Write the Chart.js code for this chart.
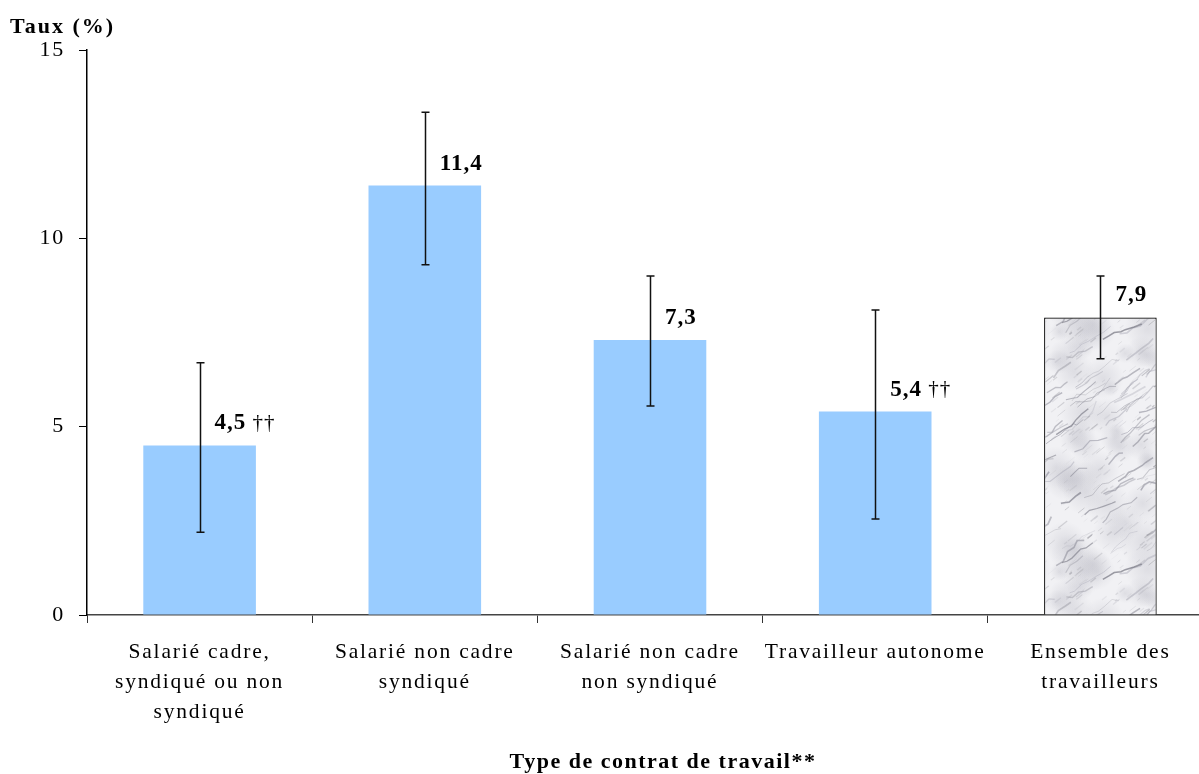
<!DOCTYPE html>
<html lang="fr">
<head>
<meta charset="utf-8">
<script src="https://cdn.jsdelivr.net/npm/chart.js@4.4.0/dist/chart.umd.min.js"></script>
<style>
  html, body { margin: 0; padding: 0; background: #fff; overflow: hidden; }
  #wrap { position: relative; width: 1213px; height: 774px; }
</style>
</head>
<body>
<div id="wrap"><canvas id="chart"></canvas></div>
<script>
  // données
  const categories = [
    ['Salarié cadre,', 'syndiqué ou non', 'syndiqué'],
    ['Salarié non cadre', 'syndiqué'],
    ['Salarié non cadre', 'non syndiqué'],
    'Travailleur autonome',
    ['Ensemble des', 'travailleurs']
  ];
  const taux = [4.5, 11.4, 7.3, 5.4, 7.9];
  const errLow = [2.2, 9.3, 5.55, 2.55, 6.8];
  const errHigh = [6.7, 13.35, 9.0, 8.1, 9.0];
  const notes = ['††', '', '', '††', ''];
  const yTicks = [0, 5, 10, 15];
  const yTitle = 'Taux (%)';
  const xTitle = 'Type de contrat de travail**';

  const serif = "'Liberation Serif', 'Times New Roman', serif";
  const blue = '#99ccff';

  // texture « marbre » (tuile raccordable) pour la barre de l'ensemble
  function marblePattern() {
    const W = 120, H = 240;
    const c = document.createElement('canvas');
    c.width = W; c.height = H;
    const g = c.getContext('2d');
    g.fillStyle = '#f1f1f4';
    g.fillRect(0, 0, W, H);
    let seed = 11;
    const rnd = () => { seed = (seed * 16807) % 2147483647; return seed / 2147483647; };
    const wrap = draw => {
      for (const dx of [-W, 0, W]) for (const dy of [-H, 0, H]) {
        g.save(); g.translate(dx, dy); draw(); g.restore();
      }
    };
    for (let i = 0; i < 40; i++) {
      const x = rnd() * W, y = rnd() * H, r = 8 + rnd() * 18;
      wrap(() => {
        const grd = g.createRadialGradient(x, y, 0, x, y, r);
        grd.addColorStop(0, 'rgba(185,185,195,0.35)');
        grd.addColorStop(1, 'rgba(185,185,195,0)');
        g.fillStyle = grd;
        g.fillRect(x - r, y - r, 2 * r, 2 * r);
      });
    }
    for (let i = 0; i < 60; i++) {
      const shade = 110 + Math.floor(rnd() * 70);
      const color = `rgba(${shade},${shade},${shade + 12},${0.3 + rnd() * 0.4})`;
      const lw = 0.6 + rnd() * 1.2;
      let x = rnd() * W, y = rnd() * H;
      const pts = [[x, y]];
      const steps = 3 + Math.floor(rnd() * 4);
      for (let s = 0; s < steps; s++) {
        x += 3 + rnd() * 6;
        y -= 1 + rnd() * 6;
        pts.push([x, y + (rnd() - 0.5) * 4]);
      }
      wrap(() => {
        g.strokeStyle = color; g.lineWidth = lw;
        g.beginPath();
        pts.forEach(([px, py], k) => (k ? g.lineTo(px, py) : g.moveTo(px, py)));
        g.stroke();
      });
    }
    for (let i = 0; i < 220; i++) {
      const x = rnd() * W, y = rnd() * H;
      const len = 3 + rnd() * 9;
      const shade = 140 + Math.floor(rnd() * 60);
      const color = `rgba(${shade},${shade},${shade + 8},${0.15 + rnd() * 0.35})`;
      const lw = 0.5 + rnd();
      wrap(() => {
        g.strokeStyle = color; g.lineWidth = lw;
        g.beginPath();
        g.moveTo(x, y);
        g.lineTo(x + len * 0.75, y - len * 0.6);
        g.stroke();
      });
    }
    return g.createPattern(c, 'repeat');
  }

  const spacing = {
    id: 'spacing',
    beforeDraw(chart) { chart.ctx.letterSpacing = '1.8px'; },
    afterDraw(chart) { chart.ctx.letterSpacing = '0px'; }
  };

  const errorBars = {
    id: 'errorBars',
    afterDatasetsDraw(chart) {
      const { ctx, scales: { y }, chartArea } = chart;
      const meta = chart.getDatasetMeta(0);
      ctx.save();
      ctx.strokeStyle = '#111';
      ctx.lineWidth = 1.5;
      meta.data.forEach((bar, i) => {
        const x = Math.round(bar.x) + 0.5;
        const yl = y.getPixelForValue(errLow[i]);
        const yh = y.getPixelForValue(errHigh[i]);
        ctx.beginPath();
        ctx.moveTo(x, yh); ctx.lineTo(x, yl);
        ctx.moveTo(x - 4, yh); ctx.lineTo(x + 4, yh);
        ctx.moveTo(x - 4, yl); ctx.lineTo(x + 4, yl);
        ctx.stroke();
      });
      // étiquettes de valeur
      ctx.fillStyle = '#000';
      ctx.textBaseline = 'middle';
      ctx.textAlign = 'left';
      ctx.letterSpacing = '1px';
      meta.data.forEach((bar, i) => {
        const lx = bar.x + 15;
        const ly = y.getPixelForValue(taux[i]) - 22;
        const txt = taux[i].toFixed(1).replace('.', ',');
        ctx.font = `bold 23px ${serif}`;
        ctx.fillText(txt, lx, ly);
        if (notes[i]) {
          const w = ctx.measureText(txt).width;
          ctx.font = `21px ${serif}`;
          ctx.fillText(' ' + notes[i], lx + w, ly);
        }
      });
      // titres des axes
      ctx.letterSpacing = '2px';
      ctx.font = `bold 22px ${serif}`;
      ctx.fillText(yTitle, 10, chartArea.top - 23);
      ctx.letterSpacing = '1.5px';
      ctx.textAlign = 'center';
      ctx.fillText(xTitle, 663, chartArea.bottom + 147);
      ctx.restore();
    }
  };

  new Chart(document.getElementById('chart'), {
    type: 'bar',
    data: {
      labels: categories,
      datasets: [{
        data: taux,
        backgroundColor: [blue, blue, blue, blue, marblePattern()],
        borderColor: ['rgba(0,0,0,0)', 'rgba(0,0,0,0)', 'rgba(0,0,0,0)', 'rgba(0,0,0,0)', '#000'],
        borderWidth: [0, 0, 0, 0, 1.2],
        barPercentage: 0.5,
        categoryPercentage: 1.0
      }]
    },
    options: {
      responsive: true,
      maintainAspectRatio: false,
      animation: false,
      layout: { padding: { left: 0, right: 0, top: 50, bottom: 0 } },
      plugins: {
        legend: { display: false },
        tooltip: { enabled: false }
      },
      scales: {
        x: {
          grid: { display: true, offset: true, drawOnChartArea: false, drawTicks: true, tickLength: 8, color: '#333' },
          border: { display: true, color: '#444', width: 1.5 },
          ticks: {
            color: '#000',
            padding: 14,
            autoSkip: false,
            maxRotation: 0,
            font: { family: serif, size: 21.5, lineHeight: 30 / 21.5 }
          },
          afterFit(scale) { scale.height = 159; }
        },
        y: {
          min: 0,
          max: 15,
          afterBuildTicks(scale) { scale.ticks = yTicks.map(v => ({ value: v })); },
          grid: { display: true, drawOnChartArea: false, drawTicks: true, tickLength: 8, color: '#000' },
          border: { display: true, color: '#000', width: 1.5 },
          ticks: {
            color: '#000',
            padding: 14,
            font: { family: serif, size: 22 }
          },
          afterFit(scale) { scale.width = 87; }
        }
      }
    },
    plugins: [spacing, errorBars]
  });
</script>
</body>
</html>
